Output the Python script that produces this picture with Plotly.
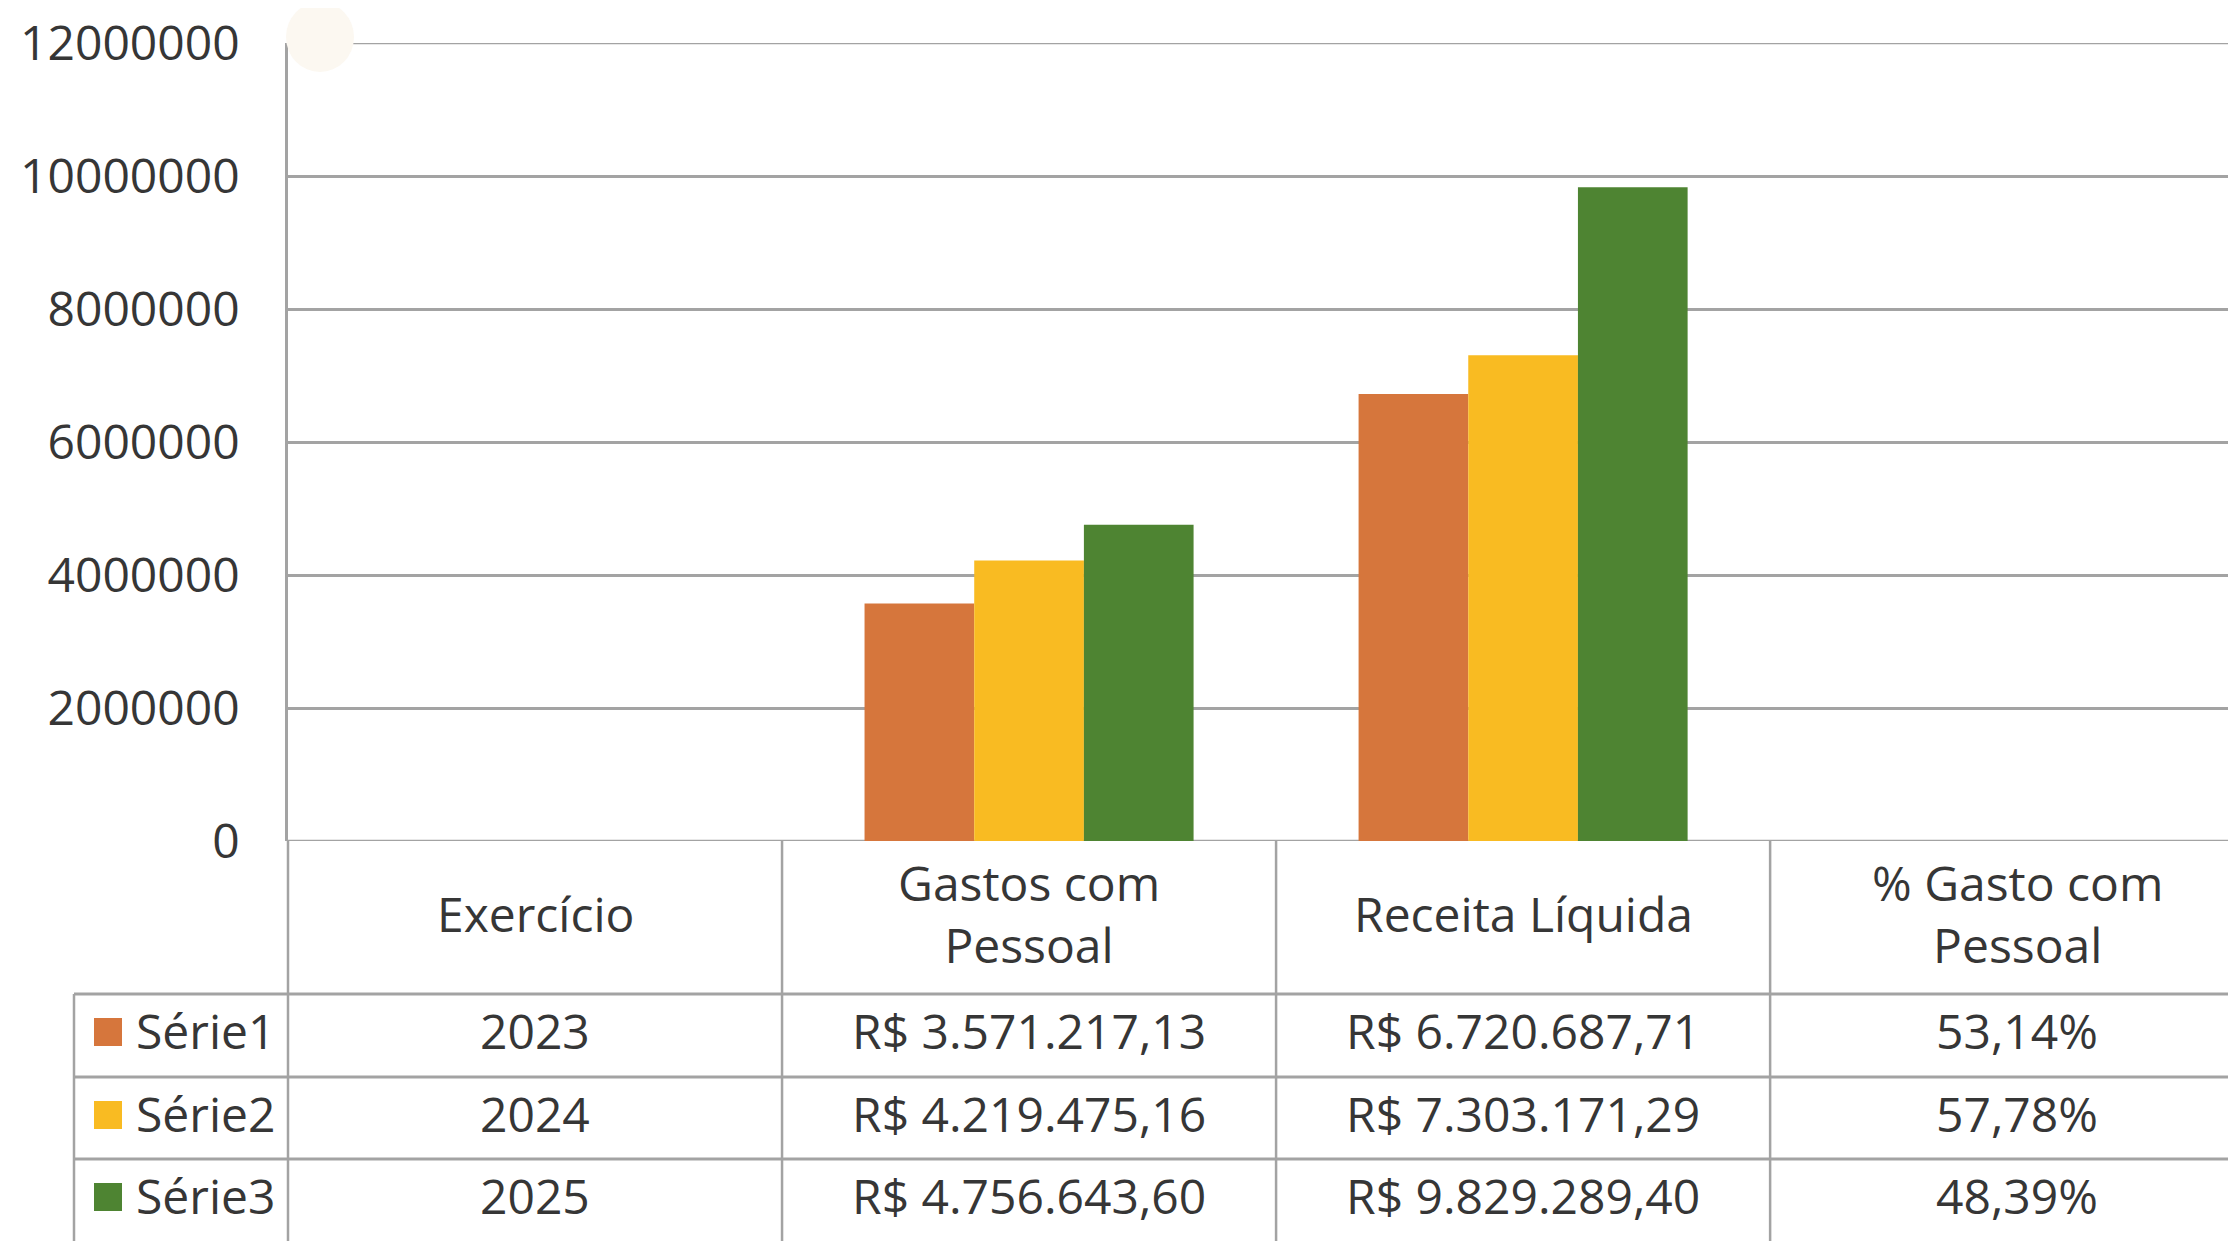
import plotly.graph_objects as go

# ---------------- data ----------------
categories = ["Exercício", "Gastos com Pessoal", "Receita Líquida", "% Gasto com Pessoal"]
header_labels = ["Exercício", "Gastos com<br>Pessoal", "Receita Líquida", "% Gasto com<br>Pessoal"]
series_names = ["Série1", "Série2", "Série3"]
exercicio = [2023, 2024, 2025]
gastos = [3571217.13, 4219475.16, 4756643.60]
receita = [6720687.71, 7303171.29, 9829289.40]
pct_gasto = [53.14, 57.78, 48.39]
y_ticks = [0, 2000000, 4000000, 6000000, 8000000, 10000000, 12000000]

colors = ["#D6763C", "#F9BB22", "#4E8432"]
text_color = "#363636"
line_color = "#A3A3A3"
FONT = "Open Sans, Liberation Sans, sans-serif"

OFF = 8                          # default page body margin
W, H = 2236 - OFF, 1241 - OFF
L, T, B = 288 - OFF, 43 - OFF, 841 - OFF   # plot area pixel edges (figure coords)
plot_w, plot_h = W - L, B - T
x_range = [-0.5, 3.443]


def brl(v):
    s = f"{v:,.2f}".replace(",", "X").replace(".", ",").replace("X", ".")
    return "R$ " + s


def pct(v):
    return f"{v:.2f}".replace(".", ",") + "%"


def px_x(p):  # p: reference pixel x
    return (p - OFF - L) / plot_w


def px_y(p):  # p: reference pixel y
    return (B - (p - OFF)) / plot_h


def cat_x(c):
    return (c - x_range[0]) / (x_range[1] - x_range[0])


fig = go.Figure()
for i, name in enumerate(series_names):
    # the Exercício and % values are far too small to be visible on this scale
    fig.add_trace(go.Bar(
        x=categories,
        y=[None, gastos[i], receita[i], None],
        name=name,
        marker=dict(color=colors[i], line=dict(width=0)),
    ))

shapes = []
ann = []
lw = 2.5

# gridlines at the edges of the value range (0 and 12 000 000)
for v in (0, 12000000):
    shapes.append(dict(type="line", xref="paper", yref="y", x0=0, x1=1, y0=v, y1=v,
                       layer="below", line=dict(color=line_color, width=lw)))
# y-axis line continuing through table
shapes.append(dict(type="line", xref="paper", yref="paper", x0=0, x1=0,
                   y0=px_y(841), y1=px_y(1250), line=dict(color=line_color, width=lw)))
# vertical column borders
for c in [0.5, 1.5, 2.5]:
    xp = cat_x(c)
    shapes.append(dict(type="line", xref="paper", yref="paper", x0=xp, x1=xp,
                       y0=px_y(841), y1=px_y(1250), line=dict(color=line_color, width=lw)))
# horizontal row lines
row_lines = [994, 1077, 1159]
for r in row_lines:
    shapes.append(dict(type="line", xref="paper", yref="paper", x0=px_x(74), x1=1.0,
                       y0=px_y(r), y1=px_y(r), line=dict(color=line_color, width=3)))
# left border of legend column
shapes.append(dict(type="line", xref="paper", yref="paper", x0=px_x(74), x1=px_x(74),
                   y0=px_y(994), y1=px_y(1250), line=dict(color=line_color, width=lw)))

# faint blob near the top-left
shapes.append(dict(type="circle", xref="paper", yref="paper", layer="above",
                   x0=px_x(286), x1=px_x(354), y0=px_y(72), y1=px_y(2),
                   fillcolor="#FCF8F1", line=dict(width=0)))

# header row
for c, lab in enumerate(header_labels):
    ann.append(dict(xref="paper", yref="paper", x=cat_x(c), y=px_y(913), text=lab,
                    showarrow=False, xanchor="center", yanchor="middle",
                    font=dict(family=FONT, size=48, color=text_color)))

# data rows
row_centers = [1030, 1113, 1195]
key_centers = [1032, 1115, 1197]
for i, name in enumerate(series_names):
    yc = row_centers[i]
    kc = key_centers[i]
    shapes.append(dict(type="rect", xref="paper", yref="paper",
                       x0=px_x(94), x1=px_x(122), y0=px_y(kc - 14), y1=px_y(kc + 14),
                       fillcolor=colors[i], line=dict(width=0)))
    ann.append(dict(xref="paper", yref="paper", x=px_x(134), y=px_y(yc), text=name,
                    showarrow=False, xanchor="left", yanchor="middle",
                    font=dict(family=FONT, size=48, color=text_color)))
    vals = [str(exercicio[i]), brl(gastos[i]), brl(receita[i]), pct(pct_gasto[i])]
    for c, v in enumerate(vals):
        ann.append(dict(xref="paper", yref="paper", x=cat_x(c), y=px_y(yc), text=v,
                        showarrow=False, xanchor="center", yanchor="middle",
                        font=dict(family=FONT, size=48, color=text_color)))

fig.update_layout(
    width=W, height=H,
    margin=dict(l=L, r=0, t=T, b=H - B, autoexpand=False),
    paper_bgcolor="white", plot_bgcolor="white",
    barmode="group", bargap=0.334, bargroupgap=0,
    showlegend=False,
    shapes=shapes, annotations=ann,
    xaxis=dict(range=x_range, showticklabels=False, showgrid=False, zeroline=False,
               showline=False, ticks=""),
    yaxis=dict(range=[0, 12000000], tickvals=y_ticks, ticktext=[str(v) for v in y_ticks],
               showgrid=True, gridcolor=line_color, gridwidth=lw, zeroline=False,
               showline=True, linecolor=line_color, linewidth=lw, ticks="",
               ticklabelstandoff=36,
               tickfont=dict(family=FONT, size=48, color=text_color)),
)

fig.write_html("out.html")
